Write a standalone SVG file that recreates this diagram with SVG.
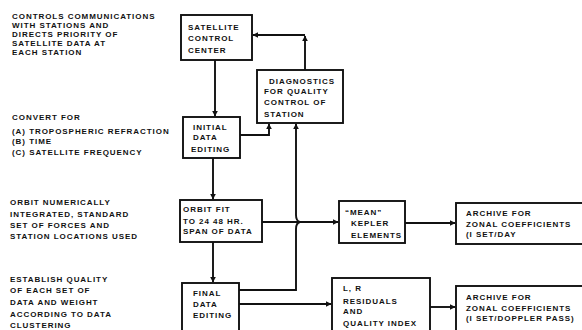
<svg xmlns="http://www.w3.org/2000/svg" width="582" height="330" viewBox="0 0 582 330">
  <style>
    text { font-family: "Liberation Sans", Arial, sans-serif; font-size: 8px; font-weight: bold; letter-spacing: 0.95px; fill: #111; }
    .box { fill: #fff; stroke: #111; stroke-width: 1.9; }
    .wire { fill: none; stroke: #111; stroke-width: 1.9; }
  </style>
  <defs>
    <marker id="arrow" viewBox="0 0 10 10" refX="9" refY="5" markerWidth="6" markerHeight="6" orient="auto" markerUnits="userSpaceOnUse">
      <path d="M0,0 L10,5 L0,10 z" fill="#111"/>
    </marker>
  </defs>
  <rect width="582" height="330" fill="#fff"/>

  <!-- side notes -->
  <g id="note-control">
    <text x="12" y="18.5">CONTROLS COMMUNICATIONS</text>
    <text x="12" y="28">WITH STATIONS AND</text>
    <text x="12" y="37">DIRECTS PRIORITY OF</text>
    <text x="12" y="45.5">SATELLITE DATA AT</text>
    <text x="12" y="55">EACH STATION</text>
  </g>
  <g id="note-convert">
    <text x="12" y="120">CONVERT FOR</text>
    <text x="12" y="133.5">(A) TROPOSPHERIC REFRACTION</text>
    <text x="12" y="144">(B) TIME</text>
    <text x="12" y="155">(C) SATELLITE FREQUENCY</text>
  </g>
  <g id="note-orbit">
    <text x="10" y="204.5">ORBIT NUMERICALLY</text>
    <text x="10" y="216.5">INTEGRATED, STANDARD</text>
    <text x="10" y="227.5">SET OF FORCES AND</text>
    <text x="10" y="239">STATION LOCATIONS USED</text>
  </g>
  <g id="note-quality">
    <text x="10" y="281.5">ESTABLISH QUALITY</text>
    <text x="10" y="293">OF EACH SET OF</text>
    <text x="10" y="304.5">DATA AND WEIGHT</text>
    <text x="10" y="316.5">ACCORDING TO DATA</text>
    <text x="10" y="327.5">CLUSTERING</text>
  </g>

  <!-- connectors -->
  <g id="connectors">
    <path class="wire" d="M215,60 V116" marker-end="url(#arrow)"/>
    <path class="wire" d="M240,135 H269 V124" marker-end="url(#arrow)"/>
    <path class="wire" d="M305,70 V36" marker-end="url(#arrow)"/>
    <path class="wire" d="M305,35 H253" marker-end="url(#arrow)"/>
    <path class="wire" d="M213,158 V199" marker-end="url(#arrow)"/>
    <path class="wire" d="M262,222 H338" marker-end="url(#arrow)"/>
    <path class="wire" d="M213,242 V282" marker-end="url(#arrow)"/>
    <path class="wire" d="M239,290 H296 V229 Q296,223 300,222 Q296,221 296,215 V124" marker-end="url(#arrow)"/>
    <path class="wire" d="M239,304 H331" marker-end="url(#arrow)"/>
    <path class="wire" d="M405,223 H455" marker-end="url(#arrow)"/>
    <path class="wire" d="M430,307 H455" marker-end="url(#arrow)"/>
  </g>

  <!-- process boxes -->
  <g id="satellite-control-center">
    <rect class="box" x="181" y="15" width="71" height="45"/>
    <text x="188" y="29.5">SATELLITE</text>
    <text x="188" y="40.5">CONTROL</text>
    <text x="188" y="52.5">CENTER</text>
  </g>
  <g id="diagnostics">
    <rect class="box" x="257" y="70" width="86" height="53"/>
    <text x="269" y="83.5">DIAGNOSTICS</text>
    <text x="264" y="93.5">FOR QUALITY</text>
    <text x="264" y="104.5">CONTROL OF</text>
    <text x="264" y="116.5">STATION</text>
  </g>
  <g id="initial-data-editing">
    <rect class="box" x="183" y="117" width="57" height="41"/>
    <text x="193" y="129.5">INITIAL</text>
    <text x="193" y="139.5">DATA</text>
    <text x="191" y="151.5">EDITING</text>
  </g>
  <g id="orbit-fit">
    <rect class="box" x="180" y="200" width="82" height="42"/>
    <text x="183" y="211.5">ORBIT FIT</text>
    <text x="183" y="223.5">TO 24 48 HR.</text>
    <text x="183" y="234">SPAN OF DATA</text>
  </g>
  <g id="final-data-editing">
    <rect class="box" x="182" y="283" width="57" height="50"/>
    <text x="193" y="295.5">FINAL</text>
    <text x="193" y="306.5">DATA</text>
    <text x="193" y="318">EDITING</text>
  </g>
  <g id="mean-kepler-elements">
    <rect class="box" x="339" y="201" width="66" height="42"/>
    <text x="345" y="214.5">“MEAN”</text>
    <text x="351" y="225.5">KEPLER</text>
    <text x="351" y="237.5">ELEMENTS</text>
  </g>
  <g id="residuals-quality-index">
    <rect class="box" x="332" y="278" width="98" height="60"/>
    <text x="343" y="290.5">L, R</text>
    <text x="343" y="303.5">RESIDUALS</text>
    <text x="343" y="313.5">AND</text>
    <text x="343" y="325.5">QUALITY INDEX</text>
  </g>
  <g id="archive-daily">
    <rect class="box" x="456" y="203" width="140" height="41"/>
    <text x="466" y="215.5">ARCHIVE FOR</text>
    <text x="466" y="226.5">ZONAL COEFFICIENTS</text>
    <text x="466" y="236.5">(I SET/DAY</text>
  </g>
  <g id="archive-pass">
    <rect class="box" x="456" y="286" width="140" height="52"/>
    <text x="466" y="299.5">ARCHIVE FOR</text>
    <text x="466" y="310.5">ZONAL COEFFICIENTS</text>
    <text x="466" y="320.5">(I SET/DOPPLER PASS)</text>
  </g>
</svg>
